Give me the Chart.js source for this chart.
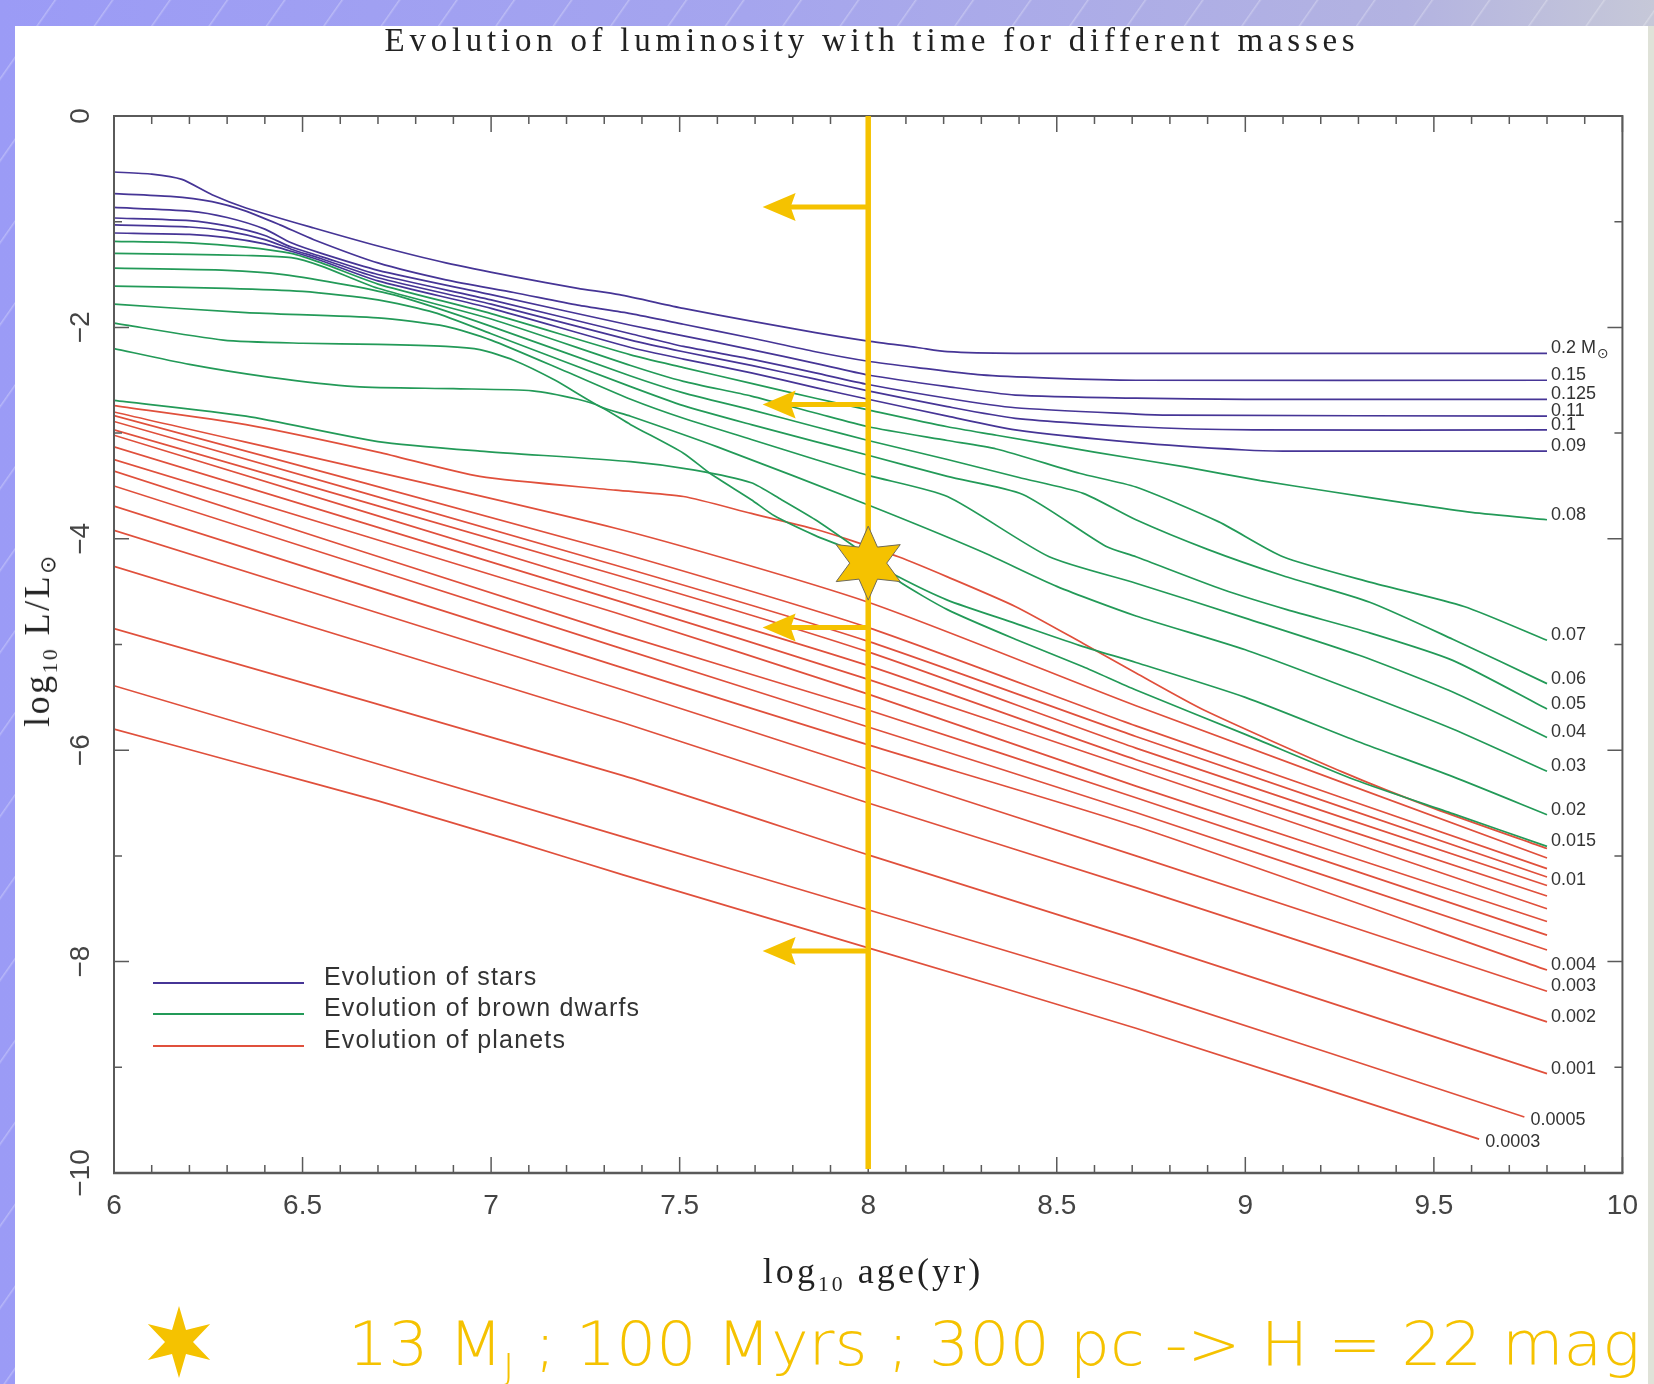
<!DOCTYPE html>
<html>
<head>
<meta charset="utf-8">
<script src="https://cdn.jsdelivr.net/npm/chart.js@4.4.1/dist/chart.umd.min.js"></script>
<style>
html, body { margin:0; padding:0; width:1654px; height:1384px; overflow:hidden; }
body {
  position:relative;
  background-color:#a4a4ec;
  background-image:
    repeating-linear-gradient(125deg, rgba(255,255,255,0) 0px, rgba(255,255,255,0) 44px, rgba(255,255,255,0.28) 45px, rgba(255,255,255,0) 47px),
    linear-gradient(90deg, #9b9bf6 0%, #a5a5ee 45%, #b3b3e1 85%, #c6c8d8 100%);
}
#panel { position:absolute; left:15px; top:26px; width:1633px; height:1358px; background:#fff; }
#rstrip { position:absolute; left:1648px; top:26px; width:6px; height:1358px; background:#dfe2d8; }
#wrap { position:absolute; left:0; top:0; width:1654px; height:1384px; }
.ov { position:absolute; white-space:nowrap; line-height:1; }
#title { left:872px; top:22px; transform:translateX(-50%); font:33px "Liberation Serif", serif; color:#222; }
#xtitle { left:873px; top:1250px; transform:translateX(-50%); font:36px "Liberation Serif", serif; color:#222; }
#ytitle { left:37px; top:640px; transform:translate(-50%,-50%) rotate(-90deg); font:36px "Liberation Serif", serif; color:#222; }
.sub { font-size:0.6em; position:relative; top:0.38em; }
.osub { font-size:0.6em; position:relative; top:0.3em; font-family:"DejaVu Sans", sans-serif; }
.lgline { position:absolute; left:153px; width:151px; height:2px; }
.lgtext { position:absolute; left:324px; font:25px "Liberation Sans", sans-serif; color:#333; line-height:24px; white-space:nowrap; letter-spacing:1.2px; }
#caption { left:348px; top:1309px; font:200 60px "DejaVu Sans", sans-serif; color:#F5C200; transform-origin:0 0; }
#capstar { position:absolute; left:140px; top:1302px; }
</style>
</head>
<body>
<div id="panel"></div>
<div id="rstrip"></div>
<div id="wrap"><canvas id="c" width="1654" height="1384"></canvas></div>
<div id="title" class="ov">Evolution of luminosity with time for different masses</div>
<div id="xtitle" class="ov"><span id="xt">log<span class="sub">10</span> age(yr)</span></div>
<div id="ytitle" class="ov"><span id="yt">log<span class="sub">10</span> L/L<span class="osub">⊙</span></span></div>
<div class="lgline" style="top:982px;background:#463596"></div>
<div class="lgline" style="top:1013px;background:#239a58"></div>
<div class="lgline" style="top:1045px;background:#e0503c"></div>
<div class="lgtext" style="top:964px">Evolution of stars</div>
<div class="lgtext" style="top:995px">Evolution of brown dwarfs</div>
<div class="lgtext" style="top:1027px">Evolution of planets</div>
<div id="caption" class="ov">13 M<span class="sub">J</span> ; 100 Myrs ; 300 pc -&gt; H = 22 mag</div>
<svg id="capstar" width="80" height="80" viewBox="0 0 80 80"><polygon id="capstarPoly" fill="#F5C200"/></svg>

<script>
// ---------------- DATA (log10 age [yr], log10 L/Lsun) ----------------
const starMasses = ['0.2', '0.15', '0.125', '0.11', '0.1', '0.09'];
const star_0_2   = [[6,-0.53],[6.1,-0.55],[6.18,-0.60],[6.26,-0.745],[6.35,-0.87],[6.53,-1.06],[6.7,-1.23],[6.88,-1.39],[7.06,-1.52],[7.23,-1.63],[7.34,-1.69],[7.51,-1.82],[7.69,-1.94],[7.86,-2.05],[8.0,-2.13],[8.13,-2.19],[8.21,-2.23],[8.39,-2.245],[9.8,-2.245]];
const star_0_15  = [[6,-0.735],[6.15,-0.76],[6.26,-0.81],[6.35,-0.90],[6.44,-1.03],[6.53,-1.17],[6.7,-1.39],[6.88,-1.55],[7.06,-1.67],[7.23,-1.79],[7.37,-1.87],[7.51,-1.97],[7.69,-2.10],[7.86,-2.23],[8.0,-2.32],[8.13,-2.38],[8.3,-2.45],[8.48,-2.48],[8.71,-2.50],[9.8,-2.50]];
const star_0_125 = [[6,-0.865],[6.2,-0.90],[6.3,-0.96],[6.4,-1.07],[6.47,-1.20],[6.55,-1.30],[6.7,-1.46],[7.0,-1.69],[7.37,-1.98],[7.51,-2.08],[7.69,-2.21],[7.86,-2.34],[8.0,-2.45],[8.21,-2.56],[8.39,-2.64],[8.71,-2.67],[9.0,-2.68],[9.8,-2.68]];
const star_0_11  = [[6,-0.965],[6.2,-0.99],[6.3,-1.04],[6.4,-1.13],[6.47,-1.24],[6.55,-1.33],[6.7,-1.50],[7.0,-1.74],[7.37,-2.06],[7.51,-2.18],[7.69,-2.30],[7.86,-2.43],[8.0,-2.54],[8.21,-2.67],[8.39,-2.76],[8.71,-2.82],[8.8,-2.83],[9.8,-2.84]];
const star_0_1   = [[6,-1.03],[6.2,-1.05],[6.3,-1.09],[6.4,-1.17],[6.47,-1.26],[6.55,-1.35],[6.7,-1.53],[7.0,-1.78],[7.37,-2.12],[7.51,-2.23],[7.69,-2.36],[7.86,-2.49],[8.0,-2.60],[8.21,-2.75],[8.39,-2.86],[8.71,-2.94],[9.02,-2.97],[9.8,-2.97]];
const star_0_09  = [[6,-1.107],[6.2,-1.12],[6.3,-1.15],[6.4,-1.21],[6.47,-1.28],[6.55,-1.37],[6.7,-1.56],[7.0,-1.82],[7.37,-2.19],[7.51,-2.30],[7.69,-2.43],[7.86,-2.57],[8.0,-2.68],[8.21,-2.84],[8.39,-2.97],[8.71,-3.09],[9.0,-3.16],[9.1,-3.17],[9.8,-3.17]];

const dwarfMasses = ['0.08', '0.07', '0.06', '0.05', '0.04', '0.03', '0.02', '0.015'];
const bd_0_08  = [[6,-1.186],[6.2,-1.20],[6.35,-1.24],[6.47,-1.30],[6.55,-1.39],[6.7,-1.59],[7.0,-1.87],[7.37,-2.26],[7.51,-2.38],[7.69,-2.53],[7.86,-2.67],[8.0,-2.78],[8.21,-2.94],[8.34,-3.02],[8.6,-3.18],[8.84,-3.32],[9.04,-3.45],[9.22,-3.55],[9.44,-3.67],[9.6,-3.75],[9.8,-3.82]];
const bd_0_07  = [[6,-1.30],[6.2,-1.31],[6.35,-1.32],[6.47,-1.34],[6.55,-1.42],[6.7,-1.63],[7.0,-1.92],[7.37,-2.36],[7.51,-2.51],[7.69,-2.65],[7.86,-2.81],[8.0,-2.94],[8.21,-3.07],[8.34,-3.15],[8.56,-3.38],[8.71,-3.51],[8.93,-3.84],[9.1,-4.17],[9.33,-4.41],[9.58,-4.64],[9.8,-4.96]];
const bd_0_06  = [[6,-1.44],[6.3,-1.46],[6.45,-1.50],[6.62,-1.60],[6.75,-1.70],[7.0,-1.99],[7.37,-2.46],[7.51,-2.62],[7.69,-2.78],[7.86,-2.94],[8.0,-3.07],[8.21,-3.25],[8.4,-3.42],[8.57,-3.57],[8.71,-3.82],[8.9,-4.10],[9.1,-4.35],[9.33,-4.60],[9.55,-4.95],[9.8,-5.37]];
const bd_0_05  = [[6,-1.61],[6.3,-1.63],[6.5,-1.66],[6.7,-1.74],[6.85,-1.86],[7.0,-2.06],[7.37,-2.56],[7.51,-2.74],[7.69,-2.92],[7.86,-3.08],[8.0,-3.21],[8.21,-3.41],[8.41,-3.58],[8.63,-4.07],[8.71,-4.17],[8.94,-4.48],[9.11,-4.67],[9.33,-4.89],[9.55,-5.15],[9.8,-5.61]];
const bd_0_04  = [[6,-1.78],[6.35,-1.86],[6.7,-1.91],[6.88,-1.99],[7.0,-2.12],[7.2,-2.42],[7.37,-2.68],[7.51,-2.86],[7.69,-3.06],[7.86,-3.25],[8.0,-3.40],[8.21,-3.60],[8.48,-4.17],[8.71,-4.42],[9.0,-4.75],[9.3,-5.10],[9.55,-5.45],[9.8,-5.88]];
const bd_0_03  = [[6,-1.96],[6.29,-2.12],[6.5,-2.15],[6.7,-2.16],[6.88,-2.18],[6.97,-2.21],[7.06,-2.31],[7.17,-2.50],[7.29,-2.75],[7.37,-2.84],[7.6,-3.13],[8.0,-3.68],[8.3,-4.12],[8.5,-4.45],[8.71,-4.73],[9.0,-5.05],[9.3,-5.45],[9.55,-5.80],[9.8,-6.20]];
const bd_0_02  = [[6,-2.20],[6.2,-2.35],[6.41,-2.47],[6.64,-2.56],[6.9,-2.58],[7.11,-2.60],[7.23,-2.68],[7.29,-2.75],[7.37,-2.92],[7.51,-3.19],[7.58,-3.38],[7.69,-3.63],[7.75,-3.78],[7.86,-3.97],[7.95,-4.10],[8.08,-4.36],[8.21,-4.58],[8.39,-4.80],[8.57,-5.02],[8.71,-5.17],[9.0,-5.50],[9.3,-5.92],[9.55,-6.25],[9.8,-6.61]];
const bd_0_015 = [[6,-2.69],[6.35,-2.84],[6.7,-3.08],[6.97,-3.17],[7.37,-3.27],[7.54,-3.35],[7.69,-3.47],[7.77,-3.63],[7.86,-3.82],[7.95,-4.04],[8.0,-4.17],[8.08,-4.40],[8.21,-4.67],[8.39,-4.95],[8.57,-5.21],[8.71,-5.43],[9.0,-5.85],[9.29,-6.28],[9.55,-6.60],[9.8,-6.91]];

const planetMasses = ['', '', '', '', '0.01', '', '', '', '', '', '0.004', '0.003', '0.002', '0.001', '0.0005', '0.0003'];
const pl_01 = [[6,-2.74],[6.35,-2.92],[6.7,-3.18],[6.97,-3.41],[7.33,-3.54],[7.51,-3.60],[7.69,-3.76],[7.86,-3.91],[7.95,-4.01],[8.08,-4.17],[8.21,-4.36],[8.39,-4.64],[8.57,-4.99],[8.71,-5.27],[8.89,-5.62],[9.26,-6.21],[9.5,-6.55],[9.8,-6.93]];
const pl_02 = [[6,-2.80],[7.33,-3.90],[8.0,-4.60],[8.71,-5.58],[9.8,-7.02]];
const pl_03 = [[6,-2.835],[7.33,-4.12],[8.0,-4.84],[8.71,-5.77],[9.8,-7.12]];
const pl_04 = [[6,-2.89],[7.33,-4.25],[8.0,-4.97],[8.71,-5.87],[9.8,-7.20]];
const pl_05 = [[6,-2.97],[7.33,-4.34],[8.0,-5.07],[8.71,-5.98],[9.8,-7.28]];
const pl_06 = [[6,-3.02],[7.33,-4.47],[8.0,-5.20],[8.71,-6.09],[9.8,-7.38]];
const pl_07 = [[6,-3.13],[7.33,-4.58],[8.0,-5.33],[8.71,-6.18],[9.8,-7.50]];
const pl_08 = [[6,-3.25],[7.33,-4.70],[8.0,-5.47],[8.71,-6.34],[9.8,-7.62]];
const pl_09 = [[6,-3.36],[7.33,-4.89],[8.0,-5.62],[8.71,-6.45],[9.8,-7.75]];
const pl_10 = [[6,-3.50],[7.33,-5.02],[8.0,-5.78],[8.71,-6.59],[9.8,-7.89]];
const pl_11 = [[6,-3.69],[7.33,-5.20],[8.0,-5.95],[8.71,-6.72],[9.8,-8.08]];
const pl_12 = [[6,-3.92],[7.35,-5.43],[8.0,-6.18],[8.71,-7.00],[9.8,-8.28]];
const pl_13 = [[6,-4.26],[7.35,-5.74],[8.0,-6.50],[8.71,-7.30],[9.8,-8.57]];
const pl_14 = [[6,-4.85],[7.35,-6.24],[8.0,-6.99],[8.71,-7.79],[9.8,-9.06]];
const pl_15 = [[6,-5.39],[7.35,-6.82],[8.0,-7.51],[8.71,-8.27],[9.74,-9.47]];
const pl_16 = [[6,-5.80],[6.35,-6.14],[6.70,-6.48],[7.06,-6.86],[7.35,-7.18],[8.0,-7.87],[8.71,-8.63],[9.62,-9.68]];

const starCurves   = [star_0_2, star_0_15, star_0_125, star_0_11, star_0_1, star_0_09];
const dwarfCurves  = [bd_0_08, bd_0_07, bd_0_06, bd_0_05, bd_0_04, bd_0_03, bd_0_02, bd_0_015];
const planetCurves = [pl_01, pl_02, pl_03, pl_04, pl_05, pl_06, pl_07, pl_08, pl_09, pl_10, pl_11, pl_12, pl_13, pl_14, pl_15, pl_16];

const xTickLabels = ['6', '6.5', '7', '7.5', '8', '8.5', '9', '9.5', '10'];
const yTickLabels = ['−10', '−8', '−6', '−4', '−2', '0'];

// annotation values
const markerAge = 8;          // log10 age of the 13 MJ object (100 Myr)
const markerLum = -4.23;      // star marker luminosity
const arrowLevels = [-0.86, -2.73, -4.84, -7.90];
const arrowTipAge = 7.72;

// ---------------- STYLE ----------------
const COL_STAR = '#463596', COL_BD = '#239a58', COL_PL = '#e0503c', GOLD = '#F5C200';

function toXY(arr) { return arr.map(p => ({ x: p[0], y: p[1] })); }
const datasets = [];
function addGroup(curves, names, color, group) {
  curves.forEach((c, i) => {
    datasets.push({
      label: names[i] ? names[i] : group, data: toXY(c), showLine: true,
      borderColor: color, backgroundColor: color, borderWidth: 1.7,
      pointRadius: 0, pointHoverRadius: 0, tension: 0.22, fill: false,
      _massLabel: names[i] || '', _group: group
    });
  });
}
addGroup(starCurves, starMasses, COL_STAR, 'star');
addGroup(dwarfCurves, dwarfMasses, COL_BD, 'dwarf');
addGroup(planetCurves, planetMasses, COL_PL, 'planet');

function starPath(ctx, cx, cy, R, r) {
  ctx.beginPath();
  for (let i = 0; i < 12; i++) {
    const a = -Math.PI / 2 + i * Math.PI / 6;
    const rad = (i % 2 === 0) ? R : r;
    const px = cx + rad * Math.cos(a), py = cy + rad * Math.sin(a);
    if (i === 0) ctx.moveTo(px, py); else ctx.lineTo(px, py);
  }
  ctx.closePath();
}

const annotate = {
  id: 'annotate',
  afterDatasetsDraw(chart) {
    const { ctx, chartArea: { left, right, top, bottom }, scales: { x, y } } = chart;
    ctx.save();
    // frame
    ctx.strokeStyle = '#5a5a5a';
    ctx.lineWidth = 2;
    ctx.beginPath();
    ctx.moveTo(left, bottom); ctx.lineTo(left, top); ctx.lineTo(right, top); ctx.lineTo(right, bottom);
    ctx.stroke();
    ctx.lineWidth = 2.6;
    ctx.beginPath(); ctx.moveTo(left - 1, bottom); ctx.lineTo(right + 1, bottom); ctx.stroke();
    // x ticks (major every 0.5, minor every 0.1)
    ctx.lineWidth = 1.5;
    ctx.beginPath();
    for (let i = 0; i <= 40; i++) {
      const v = 6 + i * 0.1;
      const px = x.getPixelForValue(v);
      const len = (i % 5 === 0) ? 16 : 8;
      ctx.moveTo(px, bottom); ctx.lineTo(px, bottom - len);
      ctx.moveTo(px, top); ctx.lineTo(px, top + len);
    }
    // y ticks (major every 2, minor every 1)
    for (let v = -10; v <= 0; v++) {
      const py = y.getPixelForValue(v);
      const len = (v % 2 === 0) ? 15 : 8;
      ctx.moveTo(left, py); ctx.lineTo(left + len, py);
      ctx.moveTo(right, py); ctx.lineTo(right - len, py);
    }
    ctx.stroke();

    // curve labels
    ctx.fillStyle = '#333';
    ctx.textBaseline = 'middle';
    ctx.textAlign = 'left';
    chart.data.datasets.forEach(ds => {
      if (!ds._massLabel) return;
      const last = ds.data[ds.data.length - 1];
      const px = x.getPixelForValue(last.x), py = y.getPixelForValue(last.y);
      const short = last.x < 9.78;
      const tx = px + (short ? 6 : 4), ty = py + (short ? 3 : -5);
      ctx.font = '18px "Liberation Sans", Arial, sans-serif';
      ctx.fillText(ds._massLabel, tx, ty);
      if (ds._massLabel === '0.2') {
        const w = ctx.measureText('0.2 ').width;
        ctx.fillText('M', tx + w, ty);
        const wm = ctx.measureText('M').width;
        ctx.font = '14px "DejaVu Sans", sans-serif';
        ctx.fillText('⊙', tx + w + wm + 1, ty + 6);
      }
    });

    // vertical line at 100 Myr
    const vx = x.getPixelForValue(markerAge);
    ctx.strokeStyle = GOLD; ctx.fillStyle = GOLD;
    ctx.lineWidth = 5.5;
    ctx.beginPath(); ctx.moveTo(vx, y.getPixelForValue(0)); ctx.lineTo(vx, y.getPixelForValue(-10) - 4); ctx.stroke();
    // arrows
    const tip = x.getPixelForValue(arrowTipAge);
    arrowLevels.forEach(v => {
      const py = y.getPixelForValue(v);
      ctx.lineWidth = 5;
      ctx.beginPath(); ctx.moveTo(vx, py); ctx.lineTo(tip + 26, py); ctx.stroke();
      ctx.beginPath();
      ctx.moveTo(tip, py); ctx.lineTo(tip + 33, py - 14); ctx.lineTo(tip + 28, py); ctx.lineTo(tip + 33, py + 14);
      ctx.closePath(); ctx.fill();
    });
    // star marker
    starPath(ctx, vx, y.getPixelForValue(markerLum), 37, 18.5);
    ctx.fillStyle = GOLD; ctx.fill();
    ctx.strokeStyle = '#6e6a5a'; ctx.lineWidth = 1; ctx.stroke();
    ctx.restore();
  }
};

const tickFont = { family: '"Liberation Sans", Arial, sans-serif', size: 28 };
new Chart(document.getElementById('c'), {
  type: 'scatter',
  data: { datasets },
  options: {
    responsive: false, animation: false, devicePixelRatio: 1,
    layout: { padding: { left: 0, right: 24, top: 116, bottom: 151 } },
    plugins: { legend: { display: false }, tooltip: { enabled: false }, title: { display: false } },
    scales: {
      x: {
        type: 'linear', min: 6, max: 10, offset: false,
        afterFit(s) { s.height = 60; },
        grid: { display: false, drawTicks: false }, border: { display: false },
        ticks: { stepSize: 0.5, padding: 16, maxRotation: 0, autoSkip: false, font: tickFont, color: '#444',
                 callback: (v, i) => xTickLabels[i] }
      },
      y: {
        type: 'linear', min: -10, max: 0,
        afterFit(s) { s.width = 114; },
        grid: { display: false, drawTicks: false }, border: { display: false },
        ticks: { stepSize: 2, padding: 9, minRotation: 90, maxRotation: 90, crossAlign: 'center', autoSkip: false,
                 font: tickFont, color: '#444', callback: (v, i) => yTickLabels[i] }
      }
    }
  },
  plugins: [annotate]
});

// ---------------- text fitting (uses untransformed layout widths) ----------------
function fitSpacing(el, target) {
  el.style.letterSpacing = '0px';
  const w = el.offsetWidth;
  const n = el.textContent.length;
  el.style.letterSpacing = ((target - w) / n) + 'px';
}
document.getElementById('xt').style.display = 'inline-block';
document.getElementById('yt').style.display = 'inline-block';
fitSpacing(document.getElementById('title'), 975);
fitSpacing(document.getElementById('xt'), 221);
fitSpacing(document.getElementById('yt'), 174);
(function () {
  const cap = document.getElementById('caption');
  const w = cap.offsetWidth;
  cap.style.transform = 'scaleX(' + (1292 / w) + ')';
  const pts = [];
  for (let i = 0; i < 12; i++) {
    const a = -Math.PI / 2 + i * Math.PI / 6;
    const rad = (i % 2 === 0) ? 36 : 14;
    pts.push((39 + rad * Math.cos(a)).toFixed(1) + ',' + (40 + rad * Math.sin(a)).toFixed(1));
  }
  document.getElementById('capstarPoly').setAttribute('points', pts.join(' '));
})();
</script>
</body>
</html>
